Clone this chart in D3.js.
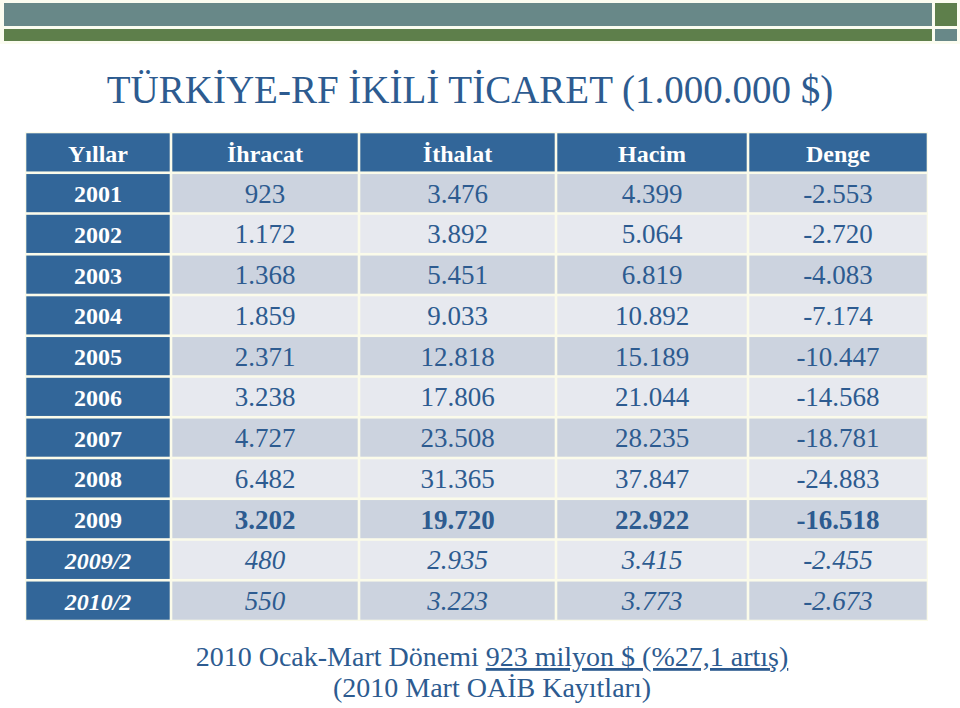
<!DOCTYPE html>
<html><head><meta charset="utf-8">
<script src="https://cdn.jsdelivr.net/npm/d3@7"></script>
<style>body{margin:0;background:#fff}svg{display:block}svg text{font-family:"Liberation Serif","Times New Roman",serif}</style>
</head><body>
<svg id="c" width="960" height="708"></svg>
<script>
const title = "TÜRKİYE-RF İKİLİ TİCARET (1.000.000 $)";
const headers = ["Yıllar", "İhracat", "İthalat", "Hacim", "Denge"];
const years = ["2001","2002","2003","2004","2005","2006","2007","2008","2009","2009/2","2010/2"];
const ihracat = [923, 1172, 1368, 1859, 2371, 3238, 4727, 6482, 3202, 480, 550];
const ithalat = [3476, 3892, 5451, 9033, 12818, 17806, 23508, 31365, 19720, 2935, 3223];
const hacim = [4399, 5064, 6819, 10892, 15189, 21044, 28235, 37847, 22922, 3415, 3773];
const denge = [-2553, -2720, -4083, -7174, -10447, -14568, -18781, -24883, -16518, -2455, -2673];
const footLine1a = "2010 Ocak-Mart Dönemi ";
const footLine1b = "923 milyon $ (%27,1 artış)";
const footLine2 = "(2010 Mart OAİB Kayıtları)";
const boldYears = ["2009"];
const italicYears = ["2009/2", "2010/2"];

const svg = d3.select("#c");
const blue = "#2d5b90";
const dark = "#326699";

// top decorative bars
svg.append("rect").attr("x",0).attr("y",0).attr("width",960).attr("height",44).attr("fill","#fbfcf0");
svg.append("rect").attr("x",4).attr("y",3).attr("width",928).attr("height",23).attr("fill","#688888");
svg.append("rect").attr("x",4).attr("y",29).attr("width",928).attr("height",12).attr("fill","#5e7f4b");
svg.append("rect").attr("x",935).attr("y",3).attr("width",22).attr("height",23).attr("fill","#5e7f4b");
svg.append("rect").attr("x",935).attr("y",29).attr("width",22).attr("height",12).attr("fill","#688888");

svg.append("text").attr("x",470).attr("y",103).attr("text-anchor","middle")
  .style("font-size","39px").attr("fill",blue).text(title);

// table
const colEdges = [25, 171, 359, 556, 748, 928];
const x = d3.scaleOrdinal().domain(headers).range(colEdges.slice(0,5));
const w = h => colEdges[headers.indexOf(h)+1] - colEdges[headers.indexOf(h)];
const rowKeys = ["header"].concat(years);
const y = d3.scaleBand().domain(rowKeys).range([132, 621]).paddingInner(0);

const fmt = d3.formatLocale({decimal:",", thousands:".", grouping:[3], currency:["","$"], minus:"-"}).format(",d");
const rows = years.map((yr,i)=>({year:yr, vals:[ihracat[i], ithalat[i], hacim[i], denge[i]]}));

svg.append("rect").attr("x",colEdges[0]).attr("y",y("header")).attr("width",colEdges[5]-colEdges[0])
  .attr("height",y.range()[1]-y.range()[0]).attr("fill","#fbfbea");

const gap = 1.3;
headers.forEach(h=>{
  svg.append("rect").attr("x",x(h)+gap).attr("y",y("header")+gap).attr("width",w(h)-2*gap).attr("height",y.bandwidth()-2*gap).attr("fill",dark);
  svg.append("text").attr("x",x(h)+w(h)/2).attr("y",y("header")+y.bandwidth()/2+9.5).attr("text-anchor","middle")
    .style("font-weight","bold").style("font-size","24px").attr("fill","#fff").text(h);
});
rows.forEach((r,i)=>{
  const yy = y(r.year);
  const bold = boldYears.includes(r.year), ital = italicYears.includes(r.year);
  svg.append("rect").attr("x",x("Yıllar")+gap).attr("y",yy+gap).attr("width",w("Yıllar")-2*gap).attr("height",y.bandwidth()-2*gap).attr("fill",dark);
  svg.append("text").attr("x",x("Yıllar")+w("Yıllar")/2).attr("y",yy+y.bandwidth()/2+9).attr("text-anchor","middle")
    .style("font-weight","bold").style("font-style",ital?"italic":"normal").style("font-size","24px").attr("fill","#fff").text(r.year);
  r.vals.forEach((v,j)=>{
    const h = headers[j+1];
    svg.append("rect").attr("x",x(h)+gap).attr("y",yy+gap).attr("width",w(h)-2*gap).attr("height",y.bandwidth()-2*gap)
      .attr("fill", i%2===0 ? "#ccd3df" : "#e7e9ef");
    svg.append("text").attr("x",x(h)+w(h)/2).attr("y",yy+y.bandwidth()/2+9.5).attr("text-anchor","middle")
      .style("font-weight",bold?"bold":"normal").style("font-style",ital?"italic":"normal")
      .style("font-size","27px").attr("fill",blue).text(fmt(v));
  });
});

// footer
const f1 = svg.append("text").attr("x",492).attr("y",666).attr("text-anchor","middle")
  .style("font-size","28px").attr("fill",blue);
f1.append("tspan").text(footLine1a);
f1.append("tspan").style("text-decoration","underline").text(footLine1b);
svg.append("text").attr("x",492).attr("y",697).attr("text-anchor","middle")
  .style("font-size","28px").attr("fill",blue).text(footLine2);
</script>
</body></html>
